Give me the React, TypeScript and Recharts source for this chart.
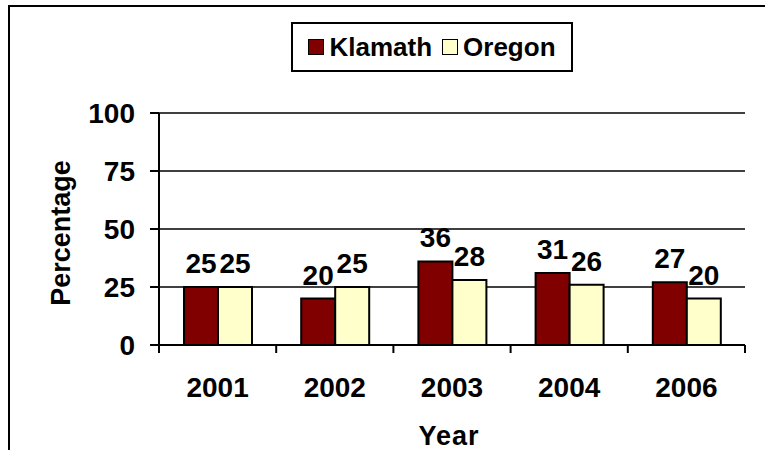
import React from 'react';
import { BarChart, Bar, XAxis, YAxis, CartesianGrid, LabelList, Label } from 'recharts';

const years = ['2001', '2002', '2003', '2004', '2006'];
const klamath = [25, 20, 36, 31, 27];
const oregon = [25, 25, 28, 26, 20];
const yTicks = [0, 25, 50, 75, 100];
const seriesNames = ['Klamath', 'Oregon'];
const seriesColors = ['#800000', '#FFFFCC'];

const data = years.map((y, i) => ({ year: y, Klamath: klamath[i], Oregon: oregon[i] }));

const FONT = 'Arial, "Liberation Sans", sans-serif';
const textStyle = { fontFamily: FONT, fontWeight: 700, fontSize: 28, fill: '#000' } as const;

const XTick = (props: any) => {
  const { x, y, payload, index } = props;
  const half = payload && typeof payload.offset === 'number' && payload.offset > 0 ? payload.offset : 58.6;
  return (
    <g>
      <line x1={x - half} x2={x - half} y1={y - 8} y2={y} stroke="#000" strokeWidth={2} />
      {index === years.length - 1 && (
        <line x1={x + half} x2={x + half} y1={y - 8} y2={y} stroke="#000" strokeWidth={2} />
      )}
      <text x={x} y={y + 44} textAnchor="middle" style={textStyle}>
        {payload.value}
      </text>
    </g>
  );
};

const YTick = (props: any) => {
  const { x, y, payload } = props;
  return (
    <text x={x} y={y + 10} textAnchor="end" style={textStyle}>
      {payload.value}
    </text>
  );
};

const barLabel = (props: any) => {
  const { x, y, width, value } = props;
  return (
    <text x={x + width / 2} y={y - 14} textAnchor="middle" style={textStyle}>
      {value}
    </text>
  );
};

const YLabel = (props: any) => {
  const vb = props.viewBox || {};
  const cx = vb.x - 38;
  const cy = vb.y + vb.height / 2 + 4;
  return (
    <text
      x={cx}
      y={cy}
      textAnchor="middle"
      dominantBaseline="central"
      transform={`rotate(-90, ${cx}, ${cy})`}
      style={{ ...textStyle, fontSize: 27 }}
    >
      Percentage
    </text>
  );
};

const XLabel = (props: any) => {
  const vb = props.viewBox || {};
  return (
    <text x={vb.x + vb.width / 2 - 3} y={vb.y + 100} textAnchor="middle" style={{ ...textStyle, fontSize: 27, letterSpacing: 1 }}>
      Year
    </text>
  );
};

export default function App() {
  return (
    <div style={{ position: 'absolute', left: 0, top: 0, width: 765, height: 450, overflow: 'hidden', background: '#fff' }}>
      <div
        style={{
          position: 'absolute',
          left: 8,
          top: 5,
          width: 900,
          height: 600,
          borderTop: '2px solid #000',
          borderLeft: '2px solid #000',
        }}
      />
      <div
        style={{
          position: 'absolute',
          left: 291,
          top: 22,
          width: 278,
          height: 46,
          border: '2px solid #000',
          background: '#fff',
          display: 'flex',
          alignItems: 'center',
          justifyContent: 'center',
          fontFamily: FONT,
          fontWeight: 700,
          fontSize: 26,
          color: '#000',
        }}
      >
        {seriesNames.map((n, i) => (
          <div key={n} style={{ display: 'flex', alignItems: 'center', marginRight: i === 0 ? 10 : 0 }}>
            <span
              style={{
                display: 'inline-block',
                width: 14,
                height: 14,
                background: seriesColors[i],
                border: '1.5px solid #000',
                marginRight: 5,
              }}
            />
            <span>{n}</span>
          </div>
        ))}
      </div>
      <div style={{ position: 'absolute', left: 0, top: 0 }}>
        <BarChart
          width={765}
          height={450}
          data={data}
          margin={{ top: 113, right: 20, left: 99, bottom: 5 }}
          barCategoryGap={25}
          barGap={0}
        >
          <CartesianGrid vertical={false} stroke="#000" strokeWidth={1.5} />
          <XAxis
            dataKey="year"
            axisLine={{ stroke: '#000', strokeWidth: 2 }}
            tickLine={false}
            tickSize={8}
            tickMargin={0}
            tick={<XTick />}
            interval={0}
            height={100}
          >
            <Label content={<XLabel />} />
          </XAxis>
          <YAxis
            domain={[0, 100]}
            ticks={yTicks}
            interval={0}
            width={60}
            tickSize={9}
            tickMargin={15}
            axisLine={{ stroke: '#000', strokeWidth: 2 }}
            tickLine={{ stroke: '#000', strokeWidth: 2 }}
            tick={<YTick />}
          >
            <Label content={<YLabel />} />
          </YAxis>
          <Bar dataKey="Klamath" fill={seriesColors[0]} stroke="#000" strokeWidth={2} isAnimationActive={false}>
            <LabelList dataKey="Klamath" content={barLabel} />
          </Bar>
          <Bar dataKey="Oregon" fill={seriesColors[1]} stroke="#000" strokeWidth={2} isAnimationActive={false}>
            <LabelList dataKey="Oregon" content={barLabel} />
          </Bar>
        </BarChart>
      </div>
    </div>
  );
}
